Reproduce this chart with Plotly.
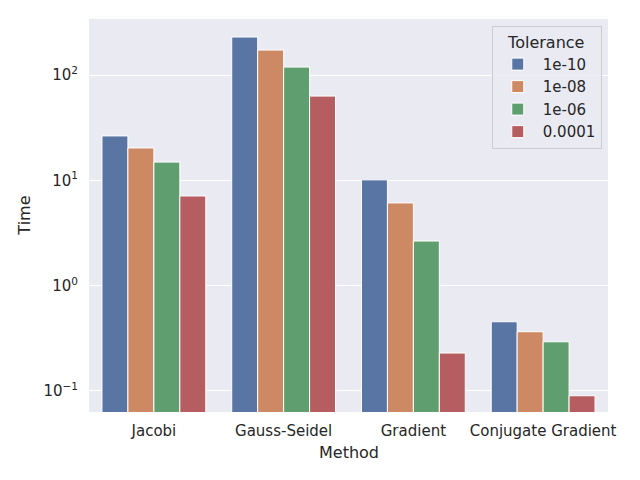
import plotly.graph_objects as go

methods = ["Jacobi", "Gauss-Seidel", "Gradient", "Conjugate Gradient"]
tolerances = ["1e-10", "1e-08", "1e-06", "0.0001"]
time_1e10 = [26.4, 229.6, 10.1, 0.454]
time_1e08 = [20.3, 172.6, 6.1, 0.365]
time_1e06 = [14.9, 119.0, 2.65, 0.293]
time_1e04 = [7.1, 63.1, 0.229, 0.090]
series = [time_1e10, time_1e08, time_1e06, time_1e04]
colors = ["#5975A4", "#CC8963", "#5F9E6E", "#B55D60"]

ytick_vals = [0.1, 1, 10, 100]
ytick_text = ["10<sup>−1</sup>", "10<sup>0</sup>", "10<sup>1</sup>", "10<sup>2</sup>"]

fig = go.Figure()
for name, vals, col in zip(tolerances, series, colors):
    fig.add_trace(go.Bar(
        x=methods, y=vals, name=name,
        marker=dict(color=col, line=dict(color="white", width=1)),
    ))

font = "DejaVu Sans, sans-serif"
fig.update_layout(
    width=640, height=480,
    margin=dict(l=81, r=40, t=11, b=76),
    paper_bgcolor="white",
    plot_bgcolor="#EAEAF2",
    barmode="group",
    bargap=0.2, bargroupgap=0,
    font=dict(family=font, size=15, color="#262626"),
    legend=dict(
        title=dict(text="Tolerance", side="top center", font=dict(size=16)),
        x=0.988, y=0.982, xanchor="right", yanchor="top",
        bgcolor="rgba(234,234,242,0.8)",
        bordercolor="#CCCCCC", borderwidth=1,
        font=dict(size=15),
        itemwidth=40,
        tracegroupgap=0,
    ),
    xaxis=dict(
        automargin=False,
        showgrid=False, zeroline=False, showline=False,
        ticks="", ticklabelstandoff=8,
    ),
    yaxis=dict(
        automargin=False,
        type="log",
        range=[-1.2, 2.532],
        tickvals=ytick_vals, ticktext=ytick_text,
        showgrid=True, gridcolor="white", gridwidth=1,
        zeroline=False, showline=False,
        ticks="", ticklabelstandoff=10,
    ),
    annotations=[
        dict(text="Method", xref="paper", yref="paper", x=0.5, y=-0.104,
             xanchor="center", yanchor="middle", showarrow=False,
             font=dict(size=16)),
        dict(text="Time", xref="paper", yref="paper", x=-0.125, y=0.5,
             xanchor="center", yanchor="middle", showarrow=False,
             textangle=-90, font=dict(size=16)),
    ],
)

fig.write_html("out.html")
